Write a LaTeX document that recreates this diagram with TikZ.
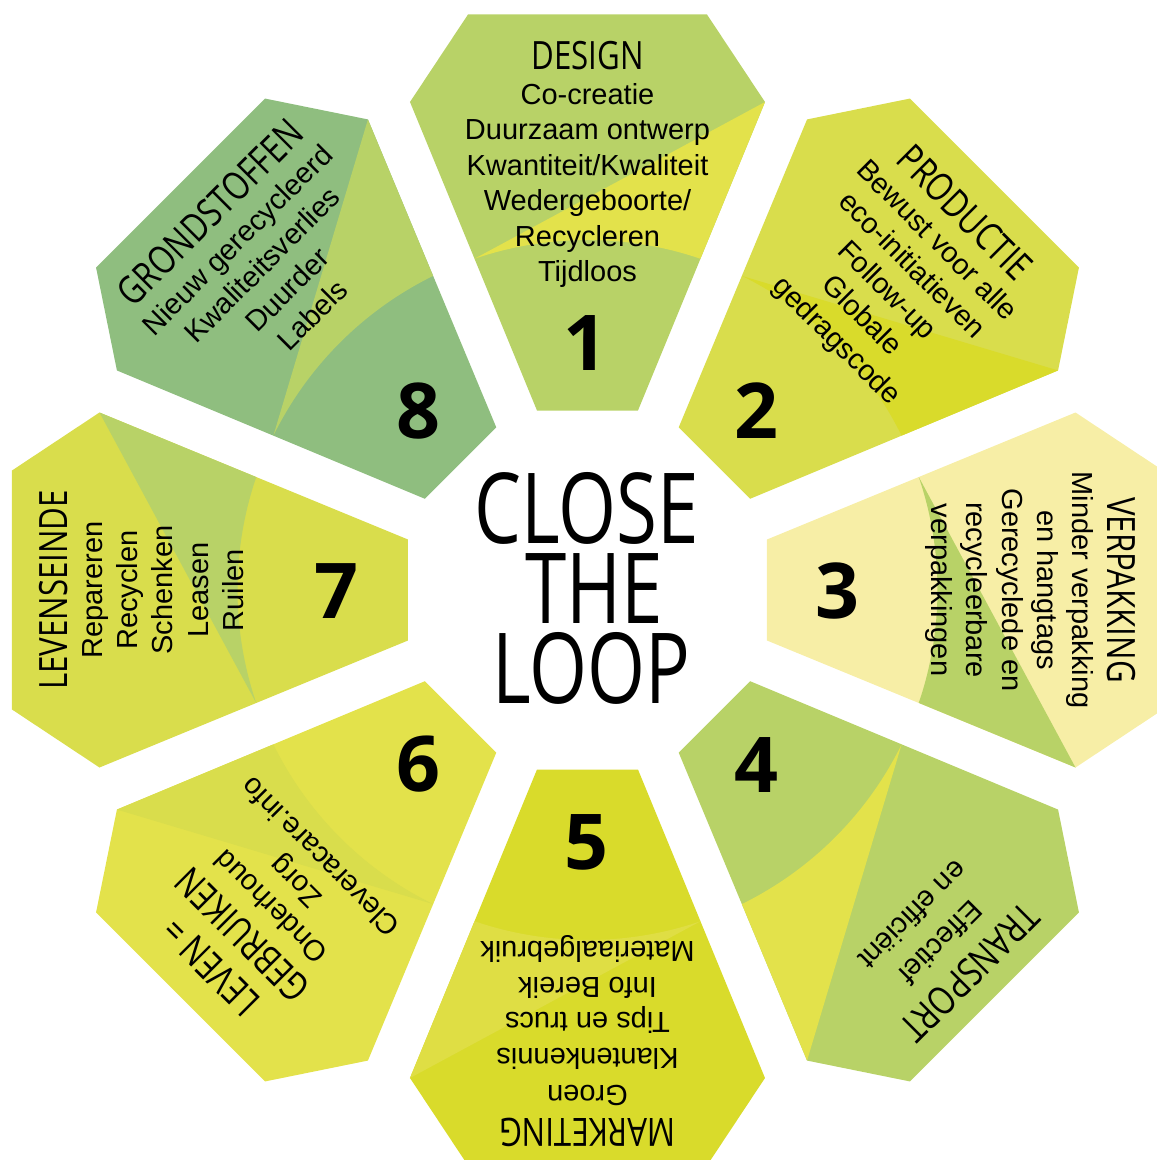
\documentclass[tikz,border=0pt]{standalone}
\usepackage{fontspec}
\setmainfont{Liberation Sans}
\newfontfamily\titlefont{Open Sans}[FakeStretch=0.8]
\newfontfamily\bigfont{Open Sans}[FakeStretch=0.76]
\newfontfamily\numfont{Open Sans}
\definecolor{cgreen}{HTML}{B8D267}
\definecolor{cdkgreen}{HTML}{8FBE7F}
\definecolor{cyellow}{HTML}{E3E24B}
\definecolor{cyg}{HTML}{D9DD4C}
\definecolor{cdeep}{HTML}{D9DB2B}
\definecolor{clight}{HTML}{DFDE44}
\definecolor{cpale}{HTML}{F7EEA6}
\newcommand\petalfill[3]{%
\begin{scope}[rotate=#1]
\fill[#2] (-50.5,179.5) -- (-177.5,488) -- (-119.5,575.5) -- (119.5,575.5) -- (177.5,488) -- (50.5,179.5) -- cycle;
\fill[#3] (177.5,488) -- (-112.98,331.26) arc[start angle=108.83, end angle=71.17, radius=350] -- cycle;
\end{scope}}
\begin{document}
\begin{tikzpicture}[x=1pt,y=1pt,
  ttl/.style={font=\titlefont\fontsize{39}{44}\selectfont, anchor=base, inner sep=0pt},
  body/.style={font=\fontsize{29}{35.4}\selectfont, anchor=base, inner sep=0pt},
  num/.style={font=\numfont\bfseries\fontsize{77}{77}\selectfont, inner sep=0pt},
  big/.style={font=\bigfont\fontsize{98}{80}\selectfont, anchor=base, inner sep=0pt}]
\path[use as bounding box] (-587.5,-570) rectangle (569.5,590);
\begin{scope}
\clip (-587.5,-570) rectangle (569.5,590);
\petalfill{0}{cgreen}{cyellow}
\petalfill{-45}{cyg}{cdeep}
\petalfill{-90}{cpale}{cgreen}
\petalfill{-135}{cgreen}{cyellow}
\petalfill{180}{cdeep}{clight}
\petalfill{135}{cyellow}{cyg}
\petalfill{90}{cyg}{cgreen}
\petalfill{45}{cdkgreen}{cgreen}

% petal 1
\node[ttl] (t1) at (90:520) {DESIGN};
\node[body] (t1a) at (90:485) {Co-creatie};
\node[body] (t1b) at (90:450) {Duurzaam ontwerp};
\node[body] (t1c) at (90:414.5) {Kwantiteit/Kwaliteit};
\node[body] (t1d) at (90:379) {Wedergeboorte/};
\node[body] (t1e) at (90:343.5) {Recycleren};
\node[body] (t1f) at (90:308) {Tijdloos};
% petal 2
\node[ttl,rotate=-45] (t2) at (45:520) {PRODUCTIE};
\node[body,rotate=-45] (t2a) at (45:485) {Bewust voor alle};
\node[body,rotate=-45] (t2b) at (45:450) {eco-initiatieven};
\node[body,rotate=-45] (t2c) at (45:414.5) {Follow-up};
\node[body,rotate=-45] (t2d) at (45:379) {Globale};
\node[body,rotate=-45] (t2e) at (45:343.5) {gedragscode};
% petal 3
\node[ttl,rotate=-90] (t3) at (0:520) {VERPAKKING};
\node[body,rotate=-90] (t3a) at (0:485) {Minder verpakking};
\node[body,rotate=-90] (t3b) at (0:450) {en hangtags};
\node[body,rotate=-90] (t3c) at (0:414.5) {Gerecyclede en};
\node[body,rotate=-90] (t3d) at (0:379) {recycleerbare};
\node[body,rotate=-90] (t3e) at (0:343.5) {verpakkingen};
% petal 4
\node[ttl,rotate=-135] (t4) at (-45:527) {TRANSPORT};
\node[body,rotate=-135] (t4a) at (-45:489) {Effectief};
\node[body,rotate=-135] (t4b) at (-45:450) {en efficiënt};
% petal 5
\node[ttl,rotate=180] (t5) at (-90:528) {MARKETING};
\node[body,rotate=180] (t5a) at (-90:495) {Groen};
\node[body,rotate=180] (t5b) at (-90:458.5) {Klantenkennis};
\node[body,rotate=180] (t5c) at (-90:422) {Tips en trucs};
\node[body,rotate=180] (t5d) at (-90:387) {Info Bereik};
\node[body,rotate=180] (t5e) at (-90:351.5) {Materiaalgebruik};
% petal 6
\node[ttl,rotate=135] (t6) at (225:519) {LEVEN =};
\node[ttl,rotate=135] (t6x) at (225:474) {GEBRUIKEN};
\node[body,rotate=135] (t6a) at (225:438) {Onderhoud};
\node[body,rotate=135] (t6b) at (225:403) {Zorg};
\node[body,rotate=135] (t6c) at (225:368) {Cleveracare.info};
% petal 7
\node[ttl,rotate=90] (t7) at (180:520) {LEVENSEINDE};
\node[body,rotate=90] (t7a) at (180:485) {Repareren};
\node[body,rotate=90] (t7b) at (180:450) {Recyclen};
\node[body,rotate=90] (t7c) at (180:414.5) {Schenken};
\node[body,rotate=90] (t7d) at (180:379) {Leasen};
\node[body,rotate=90] (t7e) at (180:343.5) {Ruilen};
% petal 8
\node[ttl,rotate=45] (t8) at (135:520) {GRONDSTOFFEN};
\node[body,rotate=45] (t8a) at (135:485) {Nieuw gerecycleerd};
\node[body,rotate=45] (t8b) at (135:450) {Kwaliteitsverlies};
\node[body,rotate=45] (t8c) at (135:414.5) {Duurder};
\node[body,rotate=45] (t8d) at (135:379) {Labels};
% numbers
\node[num] (n1) at (-2.5,247) {1};
\node[num] (n2) at (168.8,179.2) {2};
\node[num] (n3) at (250,-0.8) {3};
\node[num] (n4) at (168.8,-175) {4};
\node[num] (n5) at (-0.8,-252.5) {5};
\node[num] (n6) at (-169.2,-174.2) {6};
\node[num] (n7) at (-250.8,-0.8) {7};
\node[num] (n8) at (-168.7,179.2) {8};
% centre
\node[big] (c1) at (-1,47) {CLOSE};
\node[big] (c2) at (7,-33) {THE};
\node[big] (c3) at (4,-113) {LOOP};
\end{scope}
\end{tikzpicture}
\end{document}
